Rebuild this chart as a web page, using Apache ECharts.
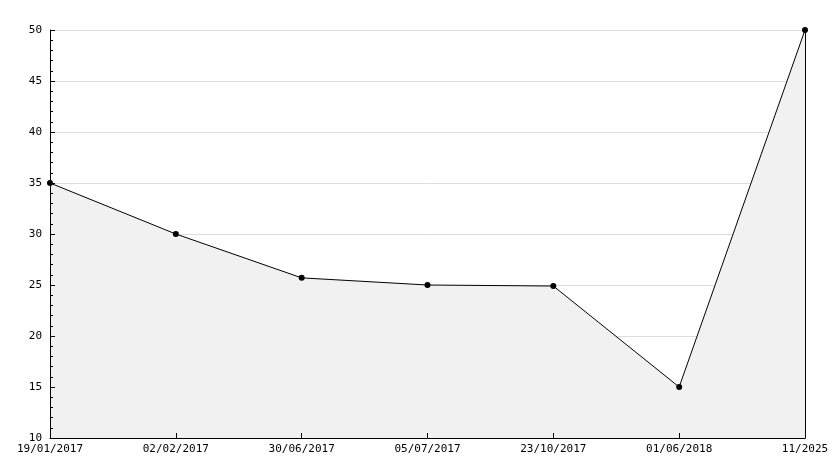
<!DOCTYPE html>
<html><head><meta charset="utf-8">
<script src="https://cdn.jsdelivr.net/npm/echarts@6/dist/echarts.min.js"></script>
<style>html,body{margin:0;padding:0;background:#fff}#c{width:834px;height:468px}</style>
</head><body><div id="c"></div>
<script>
const categories = ['19/01/2017','02/02/2017','30/06/2017','05/07/2017','23/10/2017','01/06/2018','11/2025'];
const values = [35, 30, 25.7, 25, 24.9, 15, 50];
const yMin = 10, yMax = 50, yStep = 5;

const chart = echarts.init(document.getElementById('c'), null, {renderer:'canvas'});
const font = {fontFamily:'DejaVu Sans Mono', fontSize:11, color:'#000'};
chart.setOption({
  animation:false,
  backgroundColor:'#fff',
  grid:{left:50, right:29, top:30, bottom:30},
  xAxis:{
    type:'category', data:categories, boundaryGap:false, z:10,
    axisLine:{lineStyle:{color:'#000', width:1}},
    axisTick:{inside:true, length:5, lineStyle:{color:'#000'}},
    axisLabel:Object.assign({margin:6, interval:0}, font),
    splitLine:{show:false}
  },
  yAxis:[{
    type:'value', min:yMin, max:yMax, interval:yStep, position:'left', z:0,
    axisLine:{show:false}, axisTick:{show:false}, axisLabel:{show:false},
    splitLine:{show:true, lineStyle:{color:'#dddddd', width:1}}
  },{
    type:'value', min:yMin, max:yMax, interval:yStep, position:'left', z:10,
    axisLine:{show:true, lineStyle:{color:'#000', width:1}},
    axisTick:{show:true, inside:true, length:5, lineStyle:{color:'#000'}},
    minorTick:{show:true, splitNumber:5, length:3, lineStyle:{color:'#000'}},
    axisLabel:Object.assign({margin:8}, font),
    splitLine:{show:false}
  },{
    type:'value', min:yMin, max:yMax, interval:yStep, position:'right', z:10,
    axisLine:{show:true, lineStyle:{color:'#000', width:1}},
    axisTick:{show:false}, axisLabel:{show:false}, splitLine:{show:false}
  }],
  series:[{
    type:'line', data:values, yAxisIndex:0,
    lineStyle:{color:'#000', width:1},
    itemStyle:{color:'#000'},
    symbol:'circle', symbolSize:6,
    areaStyle:{color:'#f1f1f1', opacity:1},
    z:2
  }]
});
</script></body></html>
